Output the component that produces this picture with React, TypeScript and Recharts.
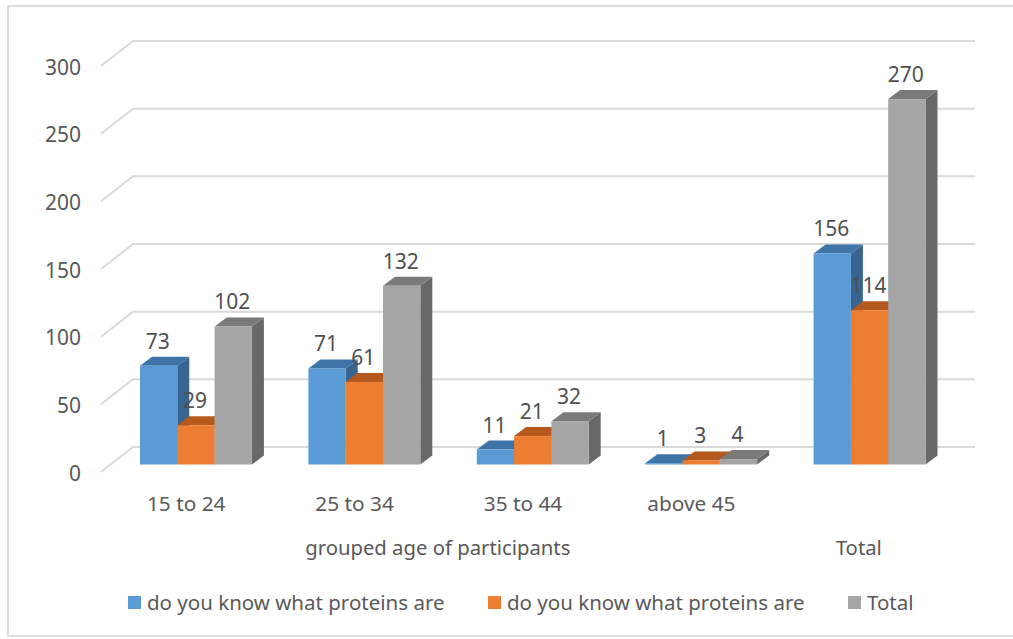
import React from "react";
import { BarChart, Bar, XAxis, YAxis, CartesianGrid, Legend, LabelList } from "recharts";

const categories = ["15 to 24", "25 to 34", "35 to 44", "above 45", "Total"];
const categoryGroups = [
  "grouped age of participants",
  "grouped age of participants",
  "grouped age of participants",
  "grouped age of participants",
  "Total",
];
const knowYes = [73, 71, 11, 1, 156];
const knowNo = [29, 61, 21, 3, 114];
const totals = [102, 132, 32, 4, 270];
const yTicks = [0, 50, 100, 150, 200, 250, 300];
const seriesName = "do you know what proteins are";

const data = categories.map((name, i) => ({
  name,
  group: categoryGroups[i],
  yes: knowYes[i],
  no: knowNo[i],
  total: totals[i],
}));

const FONT = "'Noto Sans', sans-serif";
const TEXT = "#595959";
const DX = 12;
const DY = 9;
const CHART_W = 1013;
const CHART_H = 639;
const LEFT = 112;
const RIGHT = 59;
const TOP = 58.5;
const BOTTOM = 174.5;
const BAND = (CHART_W - LEFT - RIGHT) / categories.length;

const make3D = (front: string, top: string, side: string) => (p: any) => {
  const { x, y, width, height } = p;
  return (
    <g>
      <polygon
        points={`${x + width},${y} ${x + width + DX},${y - DY} ${x + width + DX},${y + height - DY} ${x + width},${y + height}`}
        fill={side}
      />
      <polygon
        points={`${x},${y} ${x + DX},${y - DY} ${x + width + DX},${y - DY} ${x + width},${y}`}
        fill={top}
      />
      <rect x={x} y={y} width={width} height={height} fill={front} />
    </g>
  );
};

const GridLine = (p: any) => {
  const { x1, x2, y1 } = p;
  return (
    <polyline
      key={`g-${y1}`}
      points={`${x1 - 11},${y1 + 7.5} ${x1 + 21},${y1 - 17.5} ${x2 + 21},${y1 - 17.5}`}
      fill="none"
      stroke="#d9d9d9"
      strokeWidth={2}
    />
  );
};

const YTick = (p: any) => (
  <text x={81} y={p.y + 8} dominantBaseline="central" textAnchor="end" fontFamily={FONT} fontSize={21} fill={TEXT}>
    {p.payload.value}
  </text>
);

const XTick = (p: any) => {
  const i = p.index;
  const group = categoryGroups[i];
  const first = categoryGroups.indexOf(group) === i;
  const span = categoryGroups.filter((g) => g === group).length;
  return (
    <g>
      {group !== categories[i] && (
        <text x={p.x - 10} y={503} dominantBaseline="central" textAnchor="middle" fontFamily={FONT} fontSize={20.8} fill={TEXT}>
          {categories[i]}
        </text>
      )}
      {first && (
        <text
          x={p.x + ((span - 1) / 2) * BAND - 11}
          y={547}
          dominantBaseline="central"
          textAnchor="middle"
          fontFamily={FONT}
          fontSize={20.3}
          fill={TEXT}
        >
          {group}
        </text>
      )}
    </g>
  );
};

const ValueLabel = (p: any) => (
  <text
    x={p.x + p.width / 2 - 1}
    y={p.y - 25}
    dominantBaseline="central"
    textAnchor="middle"
    fontFamily={FONT}
    fontSize={21}
    fill="#505050"
  >
    {p.value}
  </text>
);

const LegendContent = (p: any) => (
  <div style={{ position: "relative", height: 26, fontFamily: FONT, fontSize: 20.5, color: TEXT }}>
    {(p.payload || []).map((e: any, i: number) => (
      <div
        key={String(e.dataKey)}
        style={{ position: "absolute", left: 128 + i * 360, top: 0, display: "flex", alignItems: "center", height: 26, whiteSpace: "nowrap" }}
      >
        <span style={{ width: 13, height: 13, background: e.color, marginRight: 6, display: "inline-block" }} />
        <span>{e.value}</span>
      </div>
    ))}
  </div>
);

export default function App() {
  return (
    <div style={{ position: "absolute", left: 0, top: 0, width: CHART_W, height: CHART_H, background: "#fff", overflow: "hidden" }}>
      <div
        style={{
          position: "absolute",
          left: 7,
          top: 5,
          right: 0,
          bottom: 2,
          borderLeft: "2px solid #dcdcdc",
          borderTop: "2px solid #dcdcdc",
          borderBottom: "2px solid #dcdcdc",
        }}
      />
      <BarChart
        width={CHART_W}
        height={CHART_H}
        data={data}
        barGap={0}
        barSize={37.3}
        margin={{ left: LEFT - 60, right: RIGHT, top: TOP, bottom: BOTTOM - 40 }}
      >
        <CartesianGrid vertical={false} horizontal={GridLine as any} />
        <XAxis dataKey="name" height={40} axisLine={false} tickLine={false} interval={0} tick={XTick as any} />
        <YAxis width={60} domain={[0, 300]} ticks={yTicks} axisLine={false} tickLine={false} tick={YTick as any} />
        <Legend
          layout="horizontal"
          verticalAlign="middle"
          itemSorter={null}
          payloadUniqBy={(e: any) => e.dataKey}
          wrapperStyle={{ top: 589, left: 0, width: CHART_W, height: 26 }}
          content={LegendContent as any}
        />
        <Bar dataKey="yes" name={seriesName} fill="#5B9BD5" isAnimationActive={false} shape={make3D("#5B9BD5", "#3F74A8", "#376590")}>
          <LabelList dataKey="yes" content={ValueLabel as any} />
        </Bar>
        <Bar dataKey="no" name={seriesName} fill="#ED7D31" isAnimationActive={false} shape={make3D("#ED7D31", "#B5591F", "#A5501C")}>
          <LabelList dataKey="no" content={ValueLabel as any} />
        </Bar>
        <Bar dataKey="total" name="Total" fill="#A5A5A5" isAnimationActive={false} shape={make3D("#A5A5A5", "#7A7A7A", "#686868")}>
          <LabelList dataKey="total" content={ValueLabel as any} />
        </Bar>
      </BarChart>
    </div>
  );
}
